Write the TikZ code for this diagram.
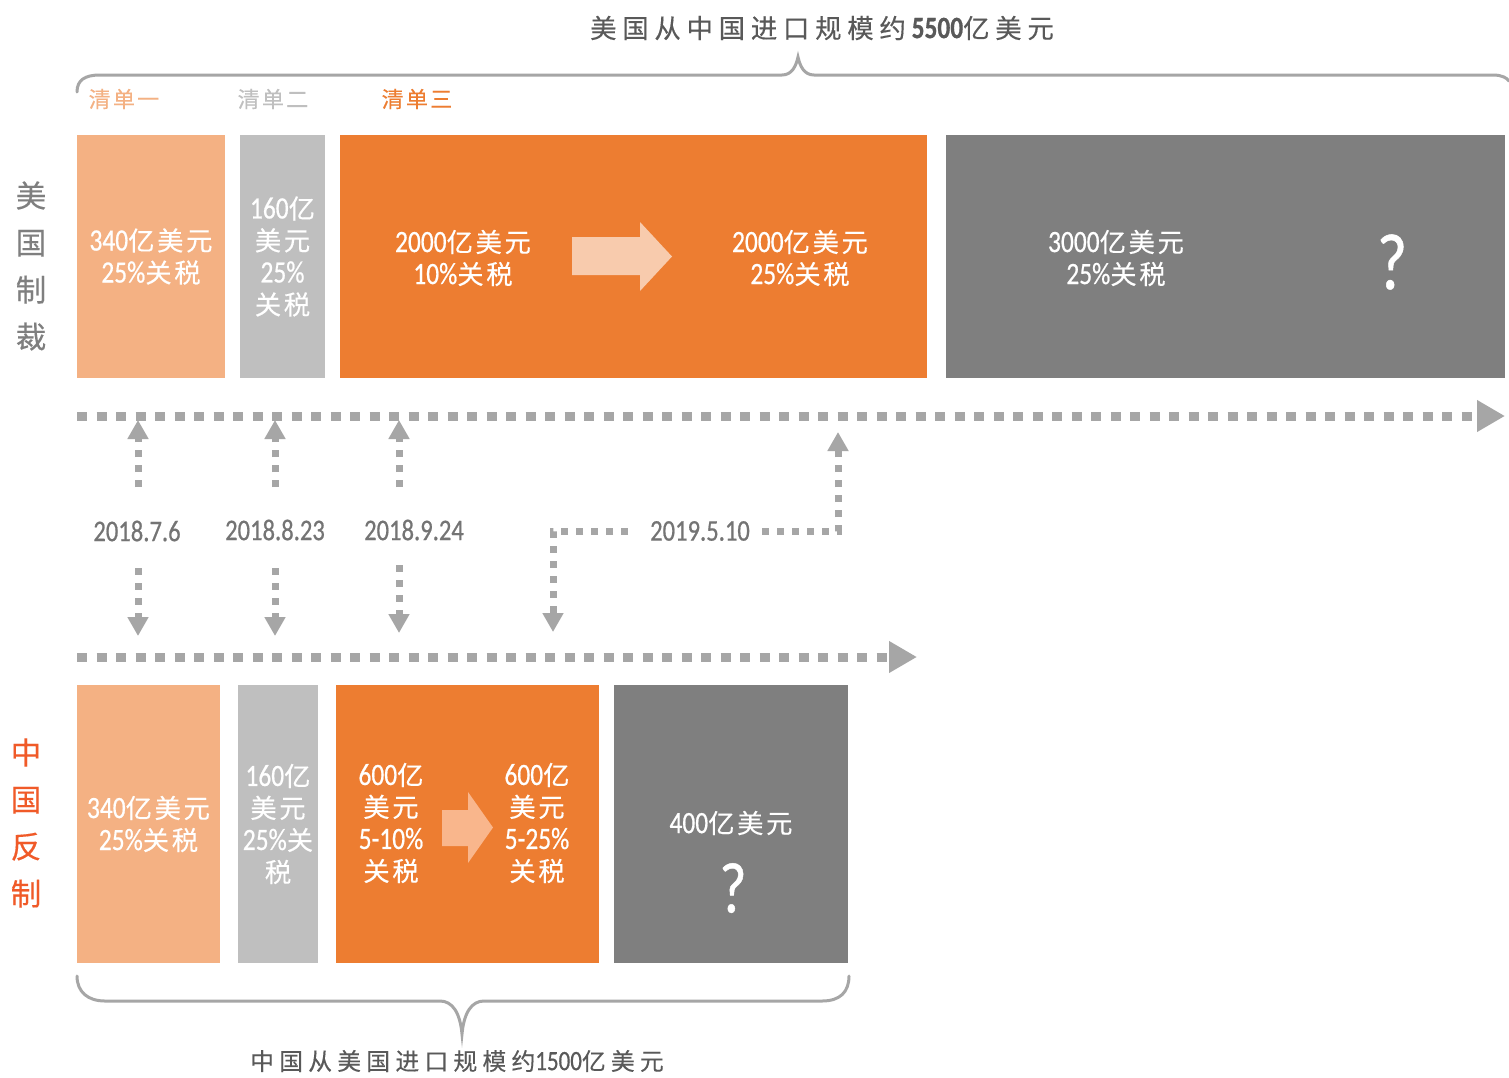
\documentclass[tikz,border=0pt]{standalone}
\usepackage{fontspec}
\setmainfont{Carlito}[FakeStretch=0.82, Numbers=Lining, FakeBold=0.6]
\newfontfamily\cjk{Noto Sans CJK SC}[Scale=0.85, LetterSpace=10, FakeBold=0.3]
\newfontfamily\cjkt{Noto Sans CJK SC}[Scale=0.85, LetterSpace=22, FakeBold=0.3]
\usetikzlibrary{arrows.meta}
\definecolor{lor}{HTML}{F4B183}
\definecolor{lgr}{HTML}{BFBFBF}
\definecolor{org}{HTML}{ED7D31}
\definecolor{dgr}{HTML}{7F7F7F}
\definecolor{dotg}{HTML}{A6A6A6}
\definecolor{arrA}{HTML}{F8CBAD}
\definecolor{arrB}{HTML}{F9B68C}
\definecolor{redo}{HTML}{F05A28}
\definecolor{titg}{HTML}{595959}
\definecolor{dateg}{HTML}{747474}
\newcommand{\zh}[1]{{\cjk #1}}
\newcommand{\zht}[1]{{\cjkt #1}}
\tikzset{
  box/.style={inner sep=0pt, outer sep=0pt, draw=none, text=white, align=center,
    font=\fontsize{31}{32}\selectfont},
  btext/.style={inner sep=0pt, text=white, align=center, font=\fontsize{31}{32}\selectfont},
  qmark/.style={inner sep=0pt, text=white, font=\fontsize{80}{80}\selectfont},
  timeline/.style={draw=dotg, line width=9pt, dash pattern=on 10pt off 9.5pt,
    -{Triangle[width=30pt,length=28pt]}},
  vdot/.style={draw=dotg, line width=7pt, dash pattern=on 7pt off 8pt,
    -{Triangle[width=20pt,length=19pt]}},
  datelbl/.style={inner sep=2pt, text=dateg, font=\fontsize{30}{32}\selectfont},
  brace/.style={draw=dotg, line width=3pt, line cap=round},
  listlbl/.style={inner sep=0pt, font=\cjk\fontsize{26}{28}\selectfont},
  sidelbl/.style={inner sep=0pt, align=center, font=\cjk\fontsize{36}{47}\selectfont}
}
\begin{document}
\begin{tikzpicture}[x=1pt,y=-1pt]
\useasboundingbox[fill=white] (0,0) rectangle (1509,1077);

% ---------- top brace and title ----------
\node (ttitle) [inner sep=0pt, text=titg, font=\fontsize{31}{34}\selectfont] at (822,28)
  {\zht{美国从中国进口规模约}\textbf{5500}\zht{亿美元}};
\draw[brace] (77,92) .. controls (77,80) and (85,75) .. (100,75) -- (782,75)
  .. controls (792,75) and (796,66) .. (798,57)
  .. controls (800,66) and (804,75) .. (814,75) -- (1493,75)
  .. controls (1502,75) and (1507,78) .. (1509,81);

\node (l1) [listlbl, text=lor] at (124,99) {清单一};
\node (l2) [listlbl, text=lgr] at (273,99) {清单二};
\node (l3) [listlbl, text=org] at (417,99) {清单三};

\node (uslbl) [sidelbl, text=dgr] at (31,266) {美\\国\\制\\裁};
\node (cnlbl) [sidelbl, text=redo] at (26,823) {中\\国\\反\\制};

% ---------- top boxes ----------
\node (u1) [box, fill=lor, minimum width=148pt, minimum height=243pt] at (151,256.5)
  {340\zh{亿美元}\\25\%\zh{关税}};
\node (u2) [box, fill=lgr, minimum width=85pt, minimum height=243pt] at (282.5,256.5)
  {160\zh{亿}\\\zh{美元}\\25\%\\\zh{关税}};
\node (u3) [box, fill=org, minimum width=587pt, minimum height=243pt] at (633.5,256.5) {};
\node (u4) [box, fill=dgr, minimum width=559pt, minimum height=243pt] at (1225.5,256.5) {};

\node (u3a) [btext] at (463,258) {2000\zh{亿美元}\\10\%\zh{关税}};
\node (u3b) [btext] at (800,258) {2000\zh{亿美元}\\25\%\zh{关税}};
\fill[arrA] (572,237) -- (640,237) -- (640,222) -- (672,256.5) -- (640,291) -- (640,275) -- (572,275) -- cycle;
\node (u4a) [btext] at (1116,258) {3000\zh{亿美元}\\25\%\zh{关税}};
\node (u4q) [qmark] at (1392,262) {?};

% ---------- timelines ----------
\coordinate (tus) at (77,416);
\coordinate (tue) at (1505,416);
\draw[timeline] (tus) -- (tue);
\coordinate (tcs) at (77,657);
\coordinate (tce) at (917,657);
\draw[timeline] (tcs) -- (tce);

% ---------- dates ----------
\node (d1) [datelbl] at (137,531) {2018.7.6};
\node (d2) [datelbl] at (275,530) {2018.8.23};
\node (d3) [datelbl] at (414,530) {2018.9.24};
\node (d4) [datelbl] at (700,531) {2019.5.10};

\coordinate (a1s) at (138,487); \coordinate (a1e) at (138,420);
\coordinate (a2s) at (275,487); \coordinate (a2e) at (275,420);
\coordinate (a3s) at (399,487); \coordinate (a3e) at (399,420);
\coordinate (b1s) at (138,568); \coordinate (b1e) at (138,636);
\coordinate (b2s) at (275,568); \coordinate (b2e) at (275,636);
\coordinate (b3s) at (399,565); \coordinate (b3e) at (399,633);
\draw[vdot] (a1s) -- (a1e);
\draw[vdot] (a2s) -- (a2e);
\draw[vdot] (a3s) -- (a3e);
\draw[vdot] (b1s) -- (b1e);
\draw[vdot] (b2s) -- (b2e);
\draw[vdot] (b3s) -- (b3e);

\coordinate (c1) at (628,531); \coordinate (c2) at (553,531); \coordinate (c3) at (553,632);
\coordinate (e1) at (762,531); \coordinate (e2) at (838,531); \coordinate (e3) at (838,432);
\draw[vdot] (c1) -- (c2) -- (c3);
\draw[vdot] (e1) -- (e2) -- (e3);

% ---------- bottom boxes ----------
\node (c1b) [box, fill=lor, minimum width=143pt, minimum height=278pt] at (148.5,824)
  {340\zh{亿美元}\\25\%\zh{关税}};
\node (c2b) [box, fill=lgr, minimum width=80pt, minimum height=278pt] at (278,824)
  {160\zh{亿}\\\zh{美元}\\25\%\zh{关}\\\zh{税}};
\node (c3b) [box, fill=org, minimum width=263pt, minimum height=278pt] at (467.5,824) {};
\node (c4b) [box, fill=dgr, minimum width=234pt, minimum height=278pt] at (731,824) {};

\node (c3l) [btext] at (391,823) {600\zh{亿}\\\zh{美元}\\5-10\%\\\zh{关税}};
\node (c3r) [btext] at (537,823) {600\zh{亿}\\\zh{美元}\\5-25\%\\\zh{关税}};
\fill[arrB] (442,810) -- (468,810) -- (468,792) -- (493,827.5) -- (468,863) -- (468,846) -- (442,846) -- cycle;
\node (c4a) [btext] at (731,823) {400\zh{亿美元}};
\node (c4q) [qmark, font=\fontsize{72}{72}\selectfont] at (733,888) {?};

% ---------- bottom brace and title ----------
\draw[brace] (77,976) .. controls (77,992) and (88,1001) .. (105,1001) -- (440,1001)
  .. controls (452,1001) and (460,1012) .. (462,1034)
  .. controls (464,1012) and (472,1001) .. (484,1001) -- (822,1001)
  .. controls (840,1001) and (849,992) .. (849,976);
\node (btitle) [inner sep=0pt, text=titg, font=\fontsize{28}{30}\selectfont] at (457,1061)
  {\zht{中国从美国进口规模约}1500\zht{亿美元}};
\end{tikzpicture}
\end{document}
